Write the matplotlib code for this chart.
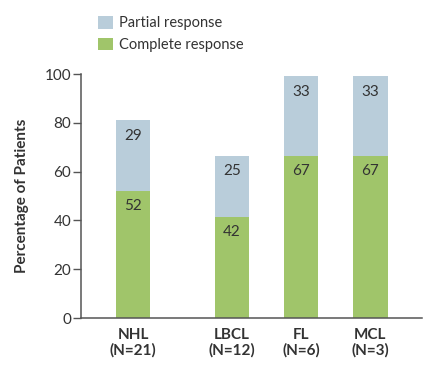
import matplotlib.pyplot as plt
from matplotlib.patches import Patch

plt.rcParams['font.family'] = ['Lato', 'DejaVu Sans']

categories = ['NHL\n(N=21)', 'LBCL\n(N=12)', 'FL\n(N=6)', 'MCL\n(N=3)']
complete = [52, 41.5, 66.5, 66.5]
partial = [29, 25, 32.5, 32.5]
complete_labels = ['52', '42', '67', '67']
partial_labels = ['29', '25', '33', '33']

# category slots (NHL set apart from the subtypes)
xpos = [0, 1.43, 2.43, 3.43]

green = '#a0c56a'
blue = '#b9cdda'
dark = '#333333'

fig = plt.figure(figsize=(4.32, 3.70), dpi=100)
ax = fig.add_axes([81 / 432, 52 / 370, 341 / 432, 244 / 370])

ax.bar(xpos, complete, width=0.5, color=green, edgecolor='none')
ax.bar(xpos, partial, width=0.5, bottom=complete, color=blue, edgecolor='none')

# value labels near the top of each segment
for x, c, p, cl, pl in zip(xpos, complete, partial, complete_labels, partial_labels):
    ax.annotate(cl, (x, c), xytext=(0, -11), textcoords='offset points',
                ha='center', va='center', fontsize=11, color=dark)
    ax.annotate(pl, (x, c + p), xytext=(0, -11), textcoords='offset points',
                ha='center', va='center', fontsize=11, color=dark)

ax.set_xlim(-0.751, 4.176)
ax.set_ylim(0, 100)
ax.set_yticks([0, 20, 40, 60, 80, 100])
ax.set_xticks(xpos)
ax.set_xticklabels(categories, fontweight='bold', fontsize=11, color=dark, linespacing=1.1)
ax.tick_params(axis='x', length=0, pad=7)
ax.tick_params(axis='y', length=6, width=1, color='#555555', labelsize=11, labelcolor=dark, pad=1)

for s in ['top', 'right']:
    ax.spines[s].set_visible(False)
for s in ['left', 'bottom']:
    ax.spines[s].set_color('#555555')
    ax.spines[s].set_linewidth(1.1)

ax.set_ylabel('Percentage of Patients', fontweight='bold', fontsize=11, color=dark, labelpad=11)

handles = [Patch(facecolor=blue, edgecolor='none', label='Partial response'),
           Patch(facecolor=green, edgecolor='none', label='Complete response')]
fig.legend(handles=handles, loc='upper left', bbox_to_anchor=(85 / 432, 1 - 3 / 370),
           frameon=False, fontsize=10.5, handlelength=1.05, handleheight=0.95,
           handletextpad=0.35, labelspacing=0.5, labelcolor=dark)

fig.savefig('out.png', dpi=100)
